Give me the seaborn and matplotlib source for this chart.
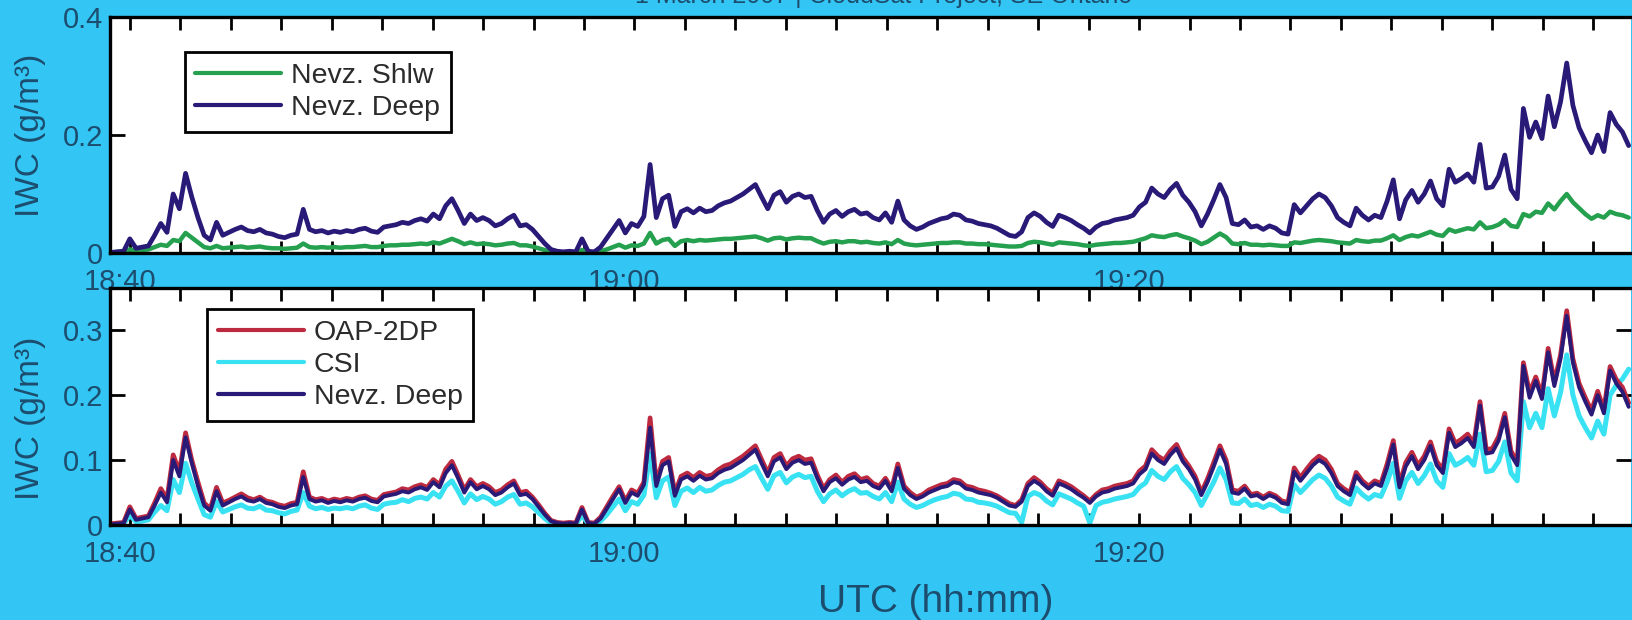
import numpy as np
import pandas as pd
import matplotlib
matplotlib.use("Agg")
import matplotlib.pyplot as plt
import matplotlib.transforms as mtransforms
from matplotlib.lines import Line2D
import seaborn as sns

# ---------------- data (IWC, g/m^3), sampled along the flight time ----------------
first_sample_min = -0.74      # minutes after 18:40 UTC of first sample
sample_step_min = 0.2455      # minutes between samples

nevz_deep = [
    0.001, 0.002, 0.003, 0.024, 0.008, 0.010, 0.012, 0.030,
    0.050, 0.035, 0.100, 0.075, 0.135, 0.095, 0.060, 0.030,
    0.022, 0.052, 0.030, 0.035, 0.040, 0.044, 0.038, 0.036,
    0.040, 0.034, 0.032, 0.028, 0.026, 0.030, 0.032, 0.074,
    0.040, 0.036, 0.038, 0.034, 0.037, 0.035, 0.038, 0.036,
    0.040, 0.042, 0.037, 0.035, 0.044, 0.046, 0.048, 0.052,
    0.050, 0.055, 0.058, 0.054, 0.066, 0.058, 0.080, 0.092,
    0.072, 0.050, 0.066, 0.055, 0.060, 0.055, 0.046, 0.050,
    0.058, 0.064, 0.046, 0.048, 0.040, 0.028, 0.016, 0.006,
    0.003, 0.002, 0.003, 0.002, 0.024, 0.003, 0.002, 0.010,
    0.025, 0.040, 0.055, 0.034, 0.050, 0.045, 0.062, 0.150,
    0.060, 0.092, 0.098, 0.045, 0.070, 0.075, 0.068, 0.076,
    0.070, 0.072, 0.080, 0.085, 0.088, 0.094, 0.100, 0.108,
    0.116, 0.095, 0.075, 0.098, 0.104, 0.086, 0.096, 0.100,
    0.094, 0.096, 0.072, 0.052, 0.066, 0.072, 0.062, 0.070,
    0.074, 0.066, 0.068, 0.060, 0.056, 0.068, 0.052, 0.088,
    0.056, 0.046, 0.040, 0.044, 0.050, 0.054, 0.058, 0.060,
    0.066, 0.064, 0.056, 0.054, 0.050, 0.048, 0.046, 0.042,
    0.036, 0.030, 0.028, 0.036, 0.060, 0.068, 0.062, 0.052,
    0.045, 0.064, 0.060, 0.055, 0.048, 0.042, 0.034, 0.044,
    0.050, 0.052, 0.056, 0.058, 0.060, 0.064, 0.078, 0.086,
    0.110, 0.100, 0.094, 0.108, 0.118, 0.098, 0.086, 0.070,
    0.046, 0.066, 0.090, 0.116, 0.094, 0.050, 0.048, 0.056,
    0.044, 0.046, 0.040, 0.046, 0.042, 0.034, 0.032, 0.082,
    0.068, 0.080, 0.092, 0.100, 0.094, 0.080, 0.060, 0.052,
    0.046, 0.076, 0.064, 0.056, 0.064, 0.060, 0.088, 0.124,
    0.058, 0.090, 0.106, 0.086, 0.100, 0.122, 0.092, 0.080,
    0.142, 0.120, 0.126, 0.134, 0.120, 0.184, 0.110, 0.112,
    0.130, 0.166, 0.108, 0.092, 0.245, 0.196, 0.222, 0.194,
    0.266, 0.214, 0.256, 0.322, 0.250, 0.212, 0.190, 0.170,
    0.200, 0.172, 0.238, 0.218, 0.205, 0.182,
]

nevz_shlw = [
    0.001, 0.002, 0.003, 0.006, 0.004, 0.005, 0.006, 0.010,
    0.014, 0.012, 0.022, 0.020, 0.034, 0.026, 0.018, 0.010,
    0.008, 0.012, 0.008, 0.009, 0.010, 0.011, 0.009, 0.010,
    0.011, 0.009, 0.008, 0.008, 0.007, 0.008, 0.009, 0.016,
    0.010, 0.009, 0.010, 0.009, 0.010, 0.009, 0.010, 0.010,
    0.011, 0.012, 0.010, 0.010, 0.012, 0.013, 0.013, 0.014,
    0.014, 0.015, 0.016, 0.015, 0.018, 0.016, 0.020, 0.024,
    0.020, 0.015, 0.018, 0.015, 0.016, 0.015, 0.013, 0.014,
    0.016, 0.017, 0.013, 0.013, 0.011, 0.008, 0.005, 0.002,
    0.001, 0.001, 0.001, 0.001, 0.005, 0.001, 0.001, 0.003,
    0.006, 0.010, 0.014, 0.009, 0.013, 0.012, 0.016, 0.034,
    0.016, 0.022, 0.024, 0.012, 0.020, 0.022, 0.020, 0.022,
    0.021, 0.022, 0.023, 0.024, 0.024, 0.025, 0.026, 0.027,
    0.028, 0.025, 0.021, 0.025, 0.026, 0.023, 0.025, 0.026,
    0.025, 0.025, 0.020, 0.016, 0.019, 0.020, 0.018, 0.020,
    0.020, 0.018, 0.019, 0.017, 0.016, 0.018, 0.015, 0.022,
    0.016, 0.014, 0.013, 0.014, 0.015, 0.016, 0.017, 0.017,
    0.018, 0.018, 0.016, 0.016, 0.015, 0.015, 0.014, 0.013,
    0.012, 0.011, 0.011, 0.012, 0.017, 0.019, 0.018, 0.016,
    0.014, 0.018, 0.017, 0.016, 0.015, 0.013, 0.012, 0.014,
    0.015, 0.016, 0.017, 0.017, 0.018, 0.019, 0.022, 0.025,
    0.030, 0.028, 0.027, 0.030, 0.032, 0.028, 0.025, 0.021,
    0.015, 0.019, 0.026, 0.033, 0.027, 0.016, 0.015, 0.017,
    0.014, 0.014, 0.013, 0.014, 0.013, 0.012, 0.012, 0.018,
    0.017, 0.019, 0.021, 0.022, 0.021, 0.020, 0.018, 0.017,
    0.016, 0.022, 0.020, 0.019, 0.021, 0.021, 0.025, 0.030,
    0.022, 0.027, 0.030, 0.028, 0.032, 0.036, 0.031, 0.029,
    0.040, 0.036, 0.039, 0.042, 0.040, 0.052, 0.042, 0.044,
    0.048, 0.056, 0.046, 0.044, 0.066, 0.062, 0.070, 0.068,
    0.084, 0.074, 0.088, 0.100, 0.086, 0.076, 0.066, 0.058,
    0.064, 0.060, 0.070, 0.066, 0.064, 0.060,
]

oap_2dp = [
    0.002, 0.003, 0.004, 0.028, 0.010, 0.012, 0.014, 0.034,
    0.056, 0.040, 0.108, 0.082, 0.142, 0.100, 0.066, 0.034,
    0.025, 0.058, 0.034, 0.038, 0.043, 0.048, 0.042, 0.039,
    0.043, 0.037, 0.035, 0.031, 0.029, 0.033, 0.035, 0.082,
    0.043, 0.039, 0.041, 0.037, 0.040, 0.038, 0.041, 0.039,
    0.043, 0.045, 0.040, 0.038, 0.047, 0.049, 0.051, 0.056,
    0.054, 0.059, 0.062, 0.058, 0.070, 0.062, 0.086, 0.098,
    0.077, 0.054, 0.070, 0.059, 0.064, 0.059, 0.050, 0.054,
    0.062, 0.068, 0.050, 0.052, 0.043, 0.031, 0.018, 0.007,
    0.004, 0.003, 0.004, 0.003, 0.027, 0.004, 0.003, 0.012,
    0.028, 0.044, 0.059, 0.037, 0.054, 0.049, 0.066, 0.165,
    0.065, 0.098, 0.104, 0.049, 0.075, 0.080, 0.073, 0.081,
    0.075, 0.077, 0.085, 0.091, 0.094, 0.100, 0.106, 0.114,
    0.122, 0.101, 0.080, 0.104, 0.110, 0.091, 0.102, 0.106,
    0.100, 0.102, 0.077, 0.056, 0.070, 0.077, 0.066, 0.075,
    0.079, 0.070, 0.073, 0.064, 0.060, 0.072, 0.056, 0.094,
    0.060, 0.050, 0.043, 0.047, 0.054, 0.058, 0.062, 0.064,
    0.070, 0.068, 0.060, 0.058, 0.054, 0.052, 0.049, 0.045,
    0.039, 0.033, 0.030, 0.039, 0.064, 0.073, 0.066, 0.056,
    0.049, 0.068, 0.064, 0.059, 0.052, 0.045, 0.037, 0.047,
    0.054, 0.056, 0.060, 0.062, 0.064, 0.068, 0.083, 0.091,
    0.116, 0.106, 0.100, 0.114, 0.124, 0.104, 0.091, 0.075,
    0.050, 0.071, 0.096, 0.122, 0.100, 0.054, 0.052, 0.060,
    0.047, 0.049, 0.043, 0.049, 0.045, 0.037, 0.035, 0.088,
    0.073, 0.086, 0.098, 0.106, 0.100, 0.086, 0.064, 0.056,
    0.050, 0.081, 0.068, 0.060, 0.068, 0.064, 0.094, 0.130,
    0.062, 0.096, 0.112, 0.092, 0.106, 0.128, 0.098, 0.085,
    0.148, 0.126, 0.132, 0.140, 0.126, 0.190, 0.116, 0.118,
    0.136, 0.172, 0.114, 0.097, 0.250, 0.204, 0.228, 0.200,
    0.272, 0.220, 0.262, 0.330, 0.256, 0.218, 0.196, 0.176,
    0.206, 0.178, 0.244, 0.224, 0.212, 0.188,
]

csi = [
    0.000, 0.001, 0.002, 0.015, 0.005, 0.006, 0.008, 0.020,
    0.030, 0.022, 0.070, 0.050, 0.095, 0.065, 0.040, 0.016,
    0.012, 0.036, 0.020, 0.024, 0.028, 0.031, 0.026, 0.025,
    0.029, 0.023, 0.022, 0.019, 0.017, 0.021, 0.023, 0.050,
    0.029, 0.025, 0.027, 0.024, 0.026, 0.025, 0.027, 0.025,
    0.029, 0.031, 0.026, 0.024, 0.032, 0.034, 0.035, 0.039,
    0.036, 0.041, 0.043, 0.040, 0.050, 0.043, 0.060, 0.068,
    0.052, 0.034, 0.048, 0.039, 0.044, 0.040, 0.032, 0.036,
    0.043, 0.047, 0.032, 0.034, 0.028, 0.019, 0.010, 0.003,
    0.001, 0.001, 0.002, 0.001, 0.015, 0.002, 0.001, 0.006,
    0.016, 0.028, 0.040, 0.022, 0.036, 0.032, 0.046, 0.110,
    0.042, 0.068, 0.074, 0.030, 0.052, 0.057, 0.050, 0.058,
    0.052, 0.054, 0.061, 0.066, 0.068, 0.073, 0.078, 0.085,
    0.090, 0.072, 0.055, 0.076, 0.081, 0.065, 0.074, 0.078,
    0.073, 0.075, 0.052, 0.036, 0.048, 0.054, 0.045, 0.052,
    0.056, 0.049, 0.050, 0.044, 0.040, 0.050, 0.036, 0.066,
    0.040, 0.032, 0.027, 0.030, 0.035, 0.039, 0.042, 0.044,
    0.049, 0.047, 0.040, 0.039, 0.035, 0.034, 0.032, 0.029,
    0.024, 0.019, 0.018, 0.004, 0.044, 0.050, 0.046, 0.037,
    0.031, 0.048, 0.044, 0.040, 0.034, 0.029, 0.003, 0.030,
    0.035, 0.037, 0.040, 0.042, 0.044, 0.047, 0.058, 0.065,
    0.084, 0.075, 0.070, 0.082, 0.090, 0.072, 0.062, 0.050,
    0.030, 0.048, 0.066, 0.088, 0.070, 0.034, 0.033, 0.040,
    0.030, 0.032, 0.027, 0.032, 0.029, 0.022, 0.021, 0.062,
    0.050, 0.060, 0.070, 0.077, 0.072, 0.060, 0.043, 0.037,
    0.032, 0.057, 0.047, 0.040, 0.047, 0.044, 0.066, 0.095,
    0.041, 0.068, 0.081, 0.064, 0.076, 0.094, 0.068, 0.058,
    0.110, 0.092, 0.097, 0.104, 0.092, 0.140, 0.082, 0.084,
    0.098, 0.128, 0.080, 0.068, 0.190, 0.150, 0.172, 0.150,
    0.210, 0.168, 0.204, 0.262, 0.200, 0.168, 0.150, 0.134,
    0.160, 0.140, 0.200, 0.215, 0.225, 0.240,
]

top_yticks = [0.0, 0.2, 0.4]
top_yticklabels = ["0", "0.2", "0.4"]
bot_yticks = [0.0, 0.1, 0.2, 0.3]
bot_yticklabels = ["0", "0.1", "0.2", "0.3"]
xtick_minutes = list(range(0, 59, 2))
xlabel_minutes = [0, 20, 40]
xlabel_texts = ["18:40", "19:00", "19:20"]

title_text = "1 March 2007 | CloudSat Project, SE Ontario"
ylabel_text = "IWC (g/m³)"
xlabel_text = "UTC (hh:mm)"

# ---------------- styling ----------------
sns.set_theme(style="white")
plt.rcParams['font.family'] = ['Liberation Sans', 'DejaVu Sans']

BG = "#33c5f3"
TXT = "#1c4d6e"
GREEN = "#24a04e"
NAVY = "#2a1a78"
RED = "#bd2a40"
CYAN = "#38e2f2"

n = len(nevz_deep)
assert n == len(nevz_shlw) == len(oap_2dp) == len(csi)
minutes = first_sample_min + sample_step_min * np.arange(n)
df = pd.DataFrame({"minutes": minutes, "shlw": nevz_shlw, "deep": nevz_deep,
                   "oap": oap_2dp, "csi": csi})

W, H = 1633, 620
fig = plt.figure(figsize=(W / 100, H / 100), dpi=100, facecolor=BG)


def rect(l, t, r, b):
    return [l / W, 1 - b / H, (r - l) / W, (b - t) / H]


ax1 = fig.add_axes(rect(110, 17, 1631, 253))
ax2 = fig.add_axes(rect(110, 288, 1631, 525))

# top panel
sns.lineplot(data=df, x="minutes", y="shlw", ax=ax1, color=GREEN, lw=3.2)
sns.lineplot(data=df, x="minutes", y="deep", ax=ax1, color=NAVY, lw=3.4)
# bottom panel
sns.lineplot(data=df, x="minutes", y="csi", ax=ax2, color=CYAN, lw=3.6)
sns.lineplot(data=df, x="minutes", y="oap", ax=ax2, color=RED, lw=3.4)
sns.lineplot(data=df, x="minutes", y="deep", ax=ax2, color=NAVY, lw=2.8)

xtl = [xlabel_texts[xlabel_minutes.index(m)] if m in xlabel_minutes else ""
       for m in xtick_minutes]

for ax, yt, ytl, ymax, right_ticks in ((ax1, top_yticks, top_yticklabels, 0.4, False),
                                        (ax2, bot_yticks, bot_yticklabels, 0.365, True)):
    ax.set_facecolor("white")
    ax.set_xlim(-0.79, 59.5)
    ax.set_ylim(0, ymax)
    ax.set_xticks(xtick_minutes)
    ax.set_xticklabels(xtl)
    ax.set_yticks(yt)
    ax.set_yticklabels(ytl)
    ax.set_xlabel("")
    ax.set_ylabel(ylabel_text, fontsize=24, color=TXT)
    ax.yaxis.label.set_va("center")
    ax.tick_params(axis="x", direction="in", length=9, width=2, color="black",
                   top=True, bottom=True, labelsize=21, labelcolor=TXT, pad=11)
    ax.tick_params(axis="y", direction="in", length=11, width=2, color="black",
                   left=True, right=right_ticks, labelsize=21, labelcolor=TXT, pad=5)
    for side in ("top", "bottom", "left"):
        ax.spines[side].set_linewidth(2.4)
        ax.spines[side].set_color("black")
    ax.spines["right"].set_visible(False)
    ax.grid(False)

ax1.yaxis.set_label_coords(-0.052, 0.5)
ax2.yaxis.set_label_coords(-0.052, 0.45)

ax2.set_xlabel(xlabel_text, fontsize=28, color=TXT)
ax2.xaxis.set_label_coords(0.543, -0.325)
ax2.xaxis.label.set_va("center")

# legends
leg_kw = dict(loc="upper left", frameon=True, fancybox=False, framealpha=1,
              edgecolor="black", fontsize=20.5, borderaxespad=0, borderpad=0.38,
              labelspacing=0.22, handlelength=3.0, handletextpad=0.35)
h1 = [Line2D([], [], color=GREEN, lw=3), Line2D([], [], color=NAVY, lw=3)]
leg1 = ax1.legend(h1, ["Nevz. Shlw", "Nevz. Deep"], bbox_to_anchor=(0.049, 0.852), **leg_kw)
h2 = [Line2D([], [], color=RED, lw=3), Line2D([], [], color=CYAN, lw=3),
      Line2D([], [], color=NAVY, lw=3)]
leg2 = ax2.legend(h2, ["OAP-2DP", "CSI", "Nevz. Deep"], bbox_to_anchor=(0.064, 0.911), **leg_kw)
for leg in (leg1, leg2):
    leg.get_frame().set_linewidth(2)
    for t in leg.get_texts():
        t.set_color("#2b2b2b")

# title, clipped at the top edge of the picture as in the reference
fig.text(0.541, 1 - 3 / H, title_text, ha="center", va="baseline", fontsize=18, color=TXT)

# tick labels sit slightly left of their tick marks in the reference
offset = mtransforms.ScaledTranslation(-0.10, 0, fig.dpi_scale_trans)
for ax in (ax1, ax2):
    for lbl in ax.get_xticklabels():
        lbl.set_transform(lbl.get_transform() + offset)

ax2.set_zorder(3)
ax1.set_zorder(2)

fig.savefig("out.png", dpi=100, facecolor=BG)
